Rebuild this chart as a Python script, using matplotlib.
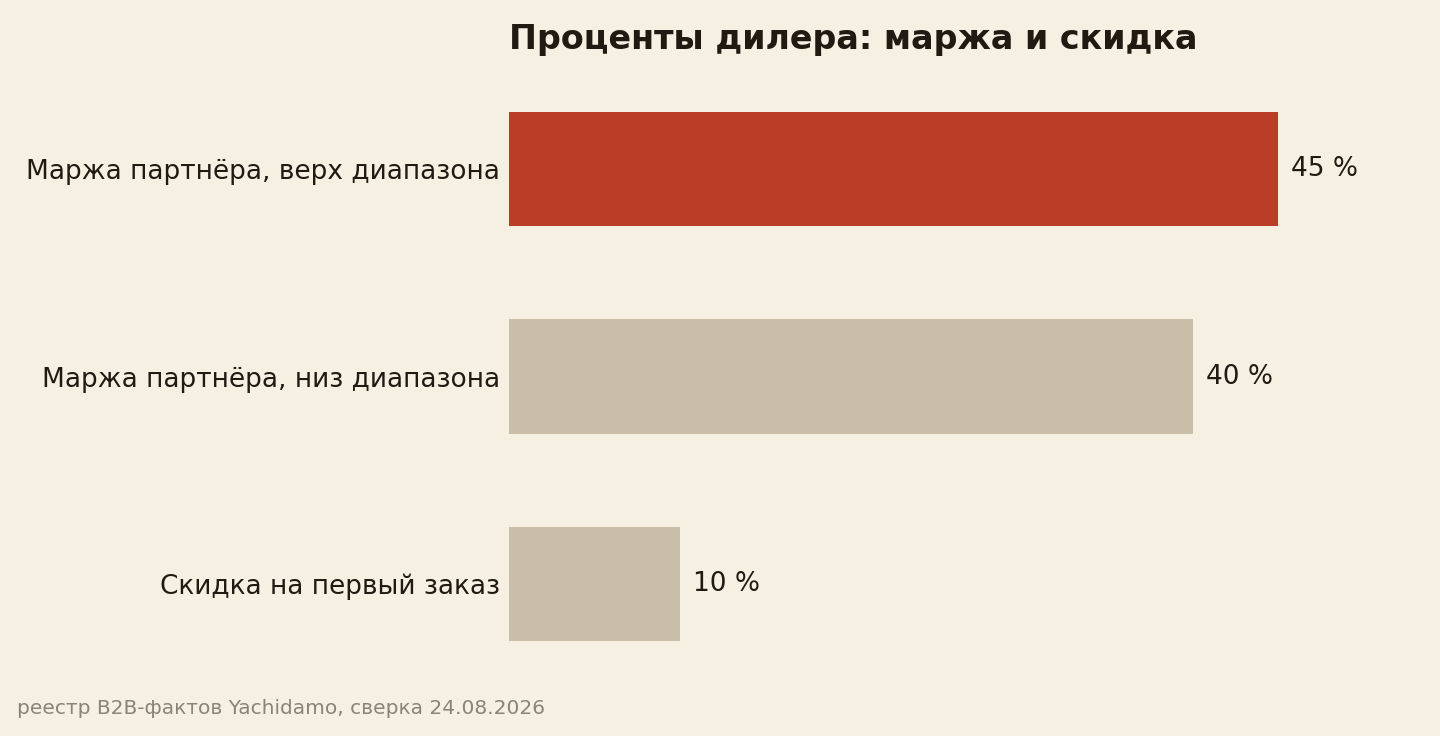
import matplotlib
matplotlib.use("Agg")
import matplotlib.pyplot as plt

# ---------- data ----------
categories = ["Маржа партнёра, верх диапазона",
              "Маржа партнёра, низ диапазона",
              "Скидка на первый заказ"]
values = [45, 40, 10]
highlight = [True, False, False]

TITLE = "Проценты дилера: маржа и скидка"
SOURCE = "реестр B2B-фактов Yachidamo, сверка 24.08.2026"

BG = "#f6f0e3"
RED = "#bc3d27"
BEIGE = "#c9bea7"
INK = "#1f1a12"
GREY = "#8a8376"

plt.rcParams["font.family"] = ["DejaVu Sans"]

fig = plt.figure(figsize=(14.4, 7.36), dpi=100, facecolor=BG)
ax = fig.add_axes([509 / 1440, 1 - 688 / 736, 906 / 1440, 623 / 736])
ax.set_facecolor(BG)

y = list(range(len(categories)))
colors = [RED if h else BEIGE for h in highlight]
ax.barh(y, values, height=0.55, color=colors)
ax.set_ylim(len(categories) - 0.5, -0.5)
ax.set_xlim(0, 53)

for yi, v in zip(y, values):
    ax.text(v + 0.75, yi, f"{v} %", va="center", ha="left",
            fontsize=19, color=INK)

ax.set_yticks(y)
ax.set_yticklabels(categories, fontsize=19, color=INK)
ax.tick_params(axis="y", length=0, pad=6.5)
ax.set_xticks([])
for s in ax.spines.values():
    s.set_visible(False)

fig.text(509 / 1440, 1 - 40 / 736, TITLE, fontsize=24, fontweight="bold",
         color=INK, ha="left", va="center")
fig.text(17 / 1440, 1 - 708 / 736, SOURCE, fontsize=14.5, color=GREY,
         ha="left", va="center")

fig.savefig("out.png", dpi=100, facecolor=BG)
